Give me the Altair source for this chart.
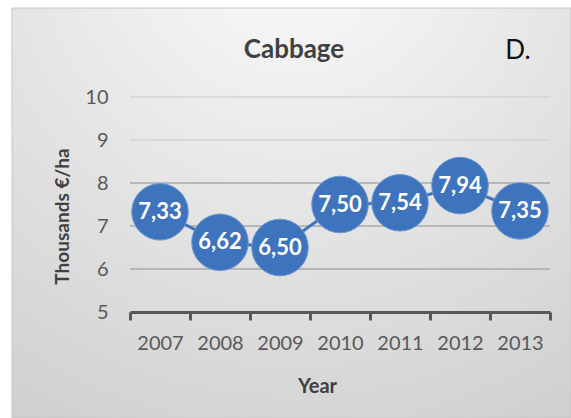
import altair as alt
import pandas as pd

# Gross margin of cabbage, thousands of euro per hectare
YEARS = ["2007", "2008", "2009", "2010", "2011", "2012", "2013"]
VALUES = [7.33, 6.62, 6.50, 7.50, 7.54, 7.94, 7.35]
Y_TICKS = [5, 6, 7, 8, 9, 10]
GRID_LINES = [6, 7, 8, 9, 10]
TITLE = "Cabbage"
TAG = "D."
X_TITLE = "Year"
Y_TITLE = "Thousands €/ha"

W, H = 420, 215
BLUE = "#3d74bd"
FONT = "Lato"
LABEL_GREY = "#595959"
TITLE_GREY = "#404040"

df = pd.DataFrame({"year": YEARS, "value": VALUES})
grid_df = pd.DataFrame({"value": GRID_LINES})

y_scale = alt.Scale(domain=[Y_TICKS[0], Y_TICKS[-1]], nice=False, zero=False)
x_scale = alt.Scale(type="band", paddingInner=0, paddingOuter=0)

x_axis = alt.Axis(
    title=X_TITLE, labelAngle=0, tickBand="extent", grid=False,
    domainColor=LABEL_GREY, domainWidth=3, tickColor=LABEL_GREY, tickWidth=3,
    tickSize=8, labelPadding=13, labelFont=FONT, labelFontSize=20,
    labelColor=LABEL_GREY, titleFont=FONT, titleFontSize=20,
    titleFontWeight="bold", titleColor=TITLE_GREY, titleX=187, titleY=74,
    titleBaseline="middle", zindex=1,
)
y_axis = alt.Axis(
    title=Y_TITLE, values=Y_TICKS, grid=False, domain=False, ticks=False,
    tickSize=0, labelPadding=22, labelFont=FONT, labelFontSize=20,
    labelColor=LABEL_GREY, titleFont=FONT, titleFontSize=19,
    titleFontWeight="bold", titleColor=TITLE_GREY, titleX=-68, titleY=119,
    titleBaseline="middle", zindex=1,
)

# panel background with a soft radial shading
panel = alt.Chart(alt.Data(values=[{"p": 1}])).mark_rect(
    fill={
        "gradient": "radial",
        "x1": 0.5, "y1": 0.0, "r1": 0.0,
        "x2": 0.5, "y2": 0.0, "r2": 1.0,
        "stops": [
            {"offset": 0.0, "color": "#fcfcfc"},
            {"offset": 0.5, "color": "#e5e5e5"},
            {"offset": 1.0, "color": "#cfcfcf"},
        ],
    },
    stroke="#c6c6c6",
    strokeWidth=1,
).encode(
    x=alt.value(-118), x2=alt.value(441), y=alt.value(-89), y2=alt.value(321)
)

# horizontal gridlines, lighter towards the top
grid = alt.Chart(grid_df).mark_rule(strokeWidth=1.5).encode(
    y=alt.Y("value:Q", scale=y_scale, axis=y_axis),
    color=alt.condition("datum.value >= 9", alt.value("#d3d3d3"), alt.value("#a8a8a8")),
)

base = alt.Chart(df).encode(
    x=alt.X("year:N", sort=YEARS, scale=x_scale, axis=x_axis),
    y=alt.Y("value:Q", scale=y_scale, axis=y_axis),
)

line = base.mark_line(color=BLUE, strokeWidth=3)
bubbles = base.mark_circle(size=3200, color=BLUE, opacity=1, stroke="#6f98cf", strokeWidth=1)
labels = base.transform_calculate(
    label="replace(format(datum.value, '.2f'), '.', ',')"
).mark_text(
    font=FONT, fontSize=22, fontWeight="bold", color="white", baseline="middle"
).encode(text="label:N")

title = alt.Chart(alt.Data(values=[{"t": TITLE}])).mark_text(
    font=FONT, fontSize=26, fontWeight="bold", color=TITLE_GREY,
    align="center", baseline="alphabetic",
).encode(x=alt.value(164), y=alt.value(-39), text="t:N")

tag = alt.Chart(alt.Data(values=[{"t": TAG}])).mark_text(
    font=FONT, fontSize=26, color="#111111", align="center", baseline="alphabetic",
).encode(x=alt.value(388), y=alt.value(-38), text="t:N")

chart = alt.layer(panel, grid, line, bubbles, labels, title, tag).properties(
    width=W,
    height=H,
    autosize=alt.AutoSizeParams(type="none"),
    padding={"left": 130, "top": 97, "right": 21, "bottom": 106},
    background="white",
).configure_view(stroke=None)

chart.save("out.html", embed_options={"renderer": "svg", "actions": False})
